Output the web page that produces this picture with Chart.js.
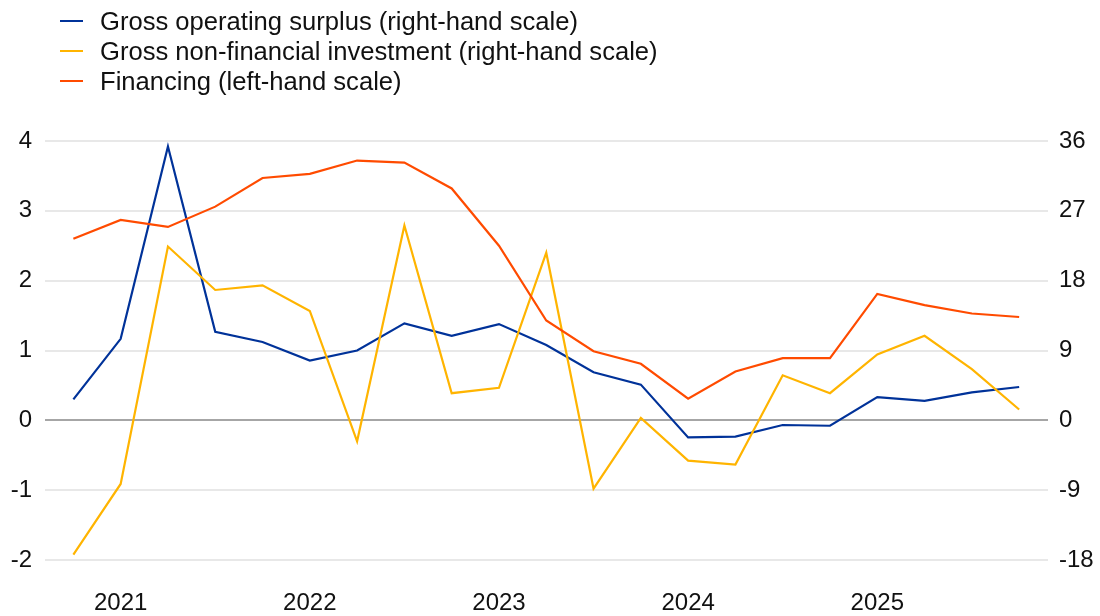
<!DOCTYPE html>
<html>
<head>
<meta charset="utf-8">
<script src="https://cdn.jsdelivr.net/npm/chart.js@4"></script>
<style>
  body { margin: 0; background: #fff; font-family: "Liberation Sans", Arial, sans-serif; }
  #wrap { position: relative; width: 1100px; height: 616px; overflow: hidden; }
  #legend { position: absolute; left: 0; top: 0; }
  .item { position: absolute; left: 60px; white-space: nowrap; font-size: 25.6px; color: #111; }
  .item span.sw { position: absolute; left: 0; top: -1px; width: 23px; height: 2px; }
  .item span.tx { position: absolute; left: 40px; line-height: 30px; top: -15px; }
</style>
</head>
<body>
<div id="wrap">
  <canvas id="myChart" width="1100" height="616"></canvas>
  <div id="legend"></div>
</div>
<script>
// quarters, 2020 Q4 to 2025 Q4
const quarters = ["2020Q4","2021Q1","2021Q2","2021Q3","2021Q4","2022Q1","2022Q2","2022Q3","2022Q4",
  "2023Q1","2023Q2","2023Q3","2023Q4","2024Q1","2024Q2","2024Q3","2024Q4","2025Q1","2025Q2","2025Q3","2025Q4"];
const yearLabels = ["2021", "2022", "2023", "2024", "2025"];
const yearTickPos = [1, 5, 9, 13, 17];   // Q1 of each year

// right-hand scale
const surplus = [2.7, 10.5, 35.3, 11.4, 10.1, 7.7, 9.0, 12.5, 10.9, 12.4, 9.7, 6.2, 4.6, -2.2, -2.1, -0.6, -0.7, 3.0, 2.5, 3.6, 4.3];
const investment = [-17.3, -8.2, 22.4, 16.8, 17.4, 14.1, -2.7, 25.1, 3.5, 4.2, 21.6, -8.8, 0.3, -5.2, -5.7, 5.8, 3.5, 8.5, 10.9, 6.6, 1.4];
// left-hand scale
const financing = [2.60, 2.87, 2.77, 3.06, 3.47, 3.53, 3.72, 3.69, 3.32, 2.50, 1.43, 0.99, 0.81, 0.31, 0.70, 0.89, 0.89, 1.81, 1.65, 1.53, 1.48];

const leftTicks = [-2, -1, 0, 1, 2, 3, 4];
const rightTicks = [-18, -9, 0, 9, 18, 27, 36];

const toPoints = arr => arr.map((v, i) => ({ x: i, y: v }));

const series = [
  { label: "Gross operating surplus (right-hand scale)", data: surplus, color: "#003299", axis: "yR" },
  { label: "Gross non-financial investment (right-hand scale)", data: investment, color: "#ffb400", axis: "yR" },
  { label: "Financing (left-hand scale)", data: financing, color: "#ff4b00", axis: "yL" }
];

// html legend, one per row
const legend = document.getElementById("legend");
series.forEach((s, i) => {
  let d = document.createElement("div");
  d.className = "item";
  d.style.top = (21 + i * 30) + "px";
  d.innerHTML = '<span class="sw" style="background:' + s.color + '"></span><span class="tx">' + s.label + '</span>';
  legend.appendChild(d);
});

const tickFont = { family: "'Liberation Sans', Arial, sans-serif", size: 24 };

const ctx = document.getElementById("myChart");
new Chart(ctx, {
  type: "line",
  data: {
    datasets: series.slice().reverse().map(s => ({
      label: s.label,
      data: toPoints(s.data),
      borderColor: s.color,
      backgroundColor: s.color,
      borderWidth: 2.2,
      pointRadius: 0,
      tension: 0,
      yAxisID: s.axis
    }))
  },
  options: {
    responsive: false,
    animation: false,
    layout: { padding: { top: 141, left: 0, right: 0, bottom: 0 } },
    plugins: { legend: { display: false }, tooltip: { enabled: false } },
    scales: {
      x: {
        type: "linear",
        min: -0.6,
        max: 20.61,
        grid: { display: false, drawTicks: false },
        border: { display: false },
        afterBuildTicks: axis => { axis.ticks = yearTickPos.map(v => ({ value: v })); },
        afterFit: axis => { axis.height = 56; },
        ticks: {
          font: tickFont,
          color: "#111",
          padding: 29,
          maxRotation: 0,
          autoSkip: false,
          callback: (v, i) => yearLabels[i]
        }
      },
      yL: {
        position: "left",
        min: -2,
        max: 4,
        afterBuildTicks: axis => { axis.ticks = leftTicks.map(v => ({ value: v })); },
        afterFit: axis => { axis.width = 45; },
        grid: {
          drawTicks: false,
          lineWidth: 2,
          color: c => c.tick && c.tick.value === 0 ? "#a6a6a6" : "#e8e8e8"
        },
        border: { display: false },
        ticks: { font: tickFont, color: "#111", padding: 13 }
      },
      yR: {
        position: "right",
        min: -18,
        max: 36,
        afterBuildTicks: axis => { axis.ticks = rightTicks.map(v => ({ value: v })); },
        afterFit: axis => { axis.width = 52; },
        grid: { display: false, drawTicks: false },
        border: { display: false },
        ticks: { font: tickFont, color: "#111", padding: 11 }
      }
    }
  }
});
</script>
</body>
</html>
